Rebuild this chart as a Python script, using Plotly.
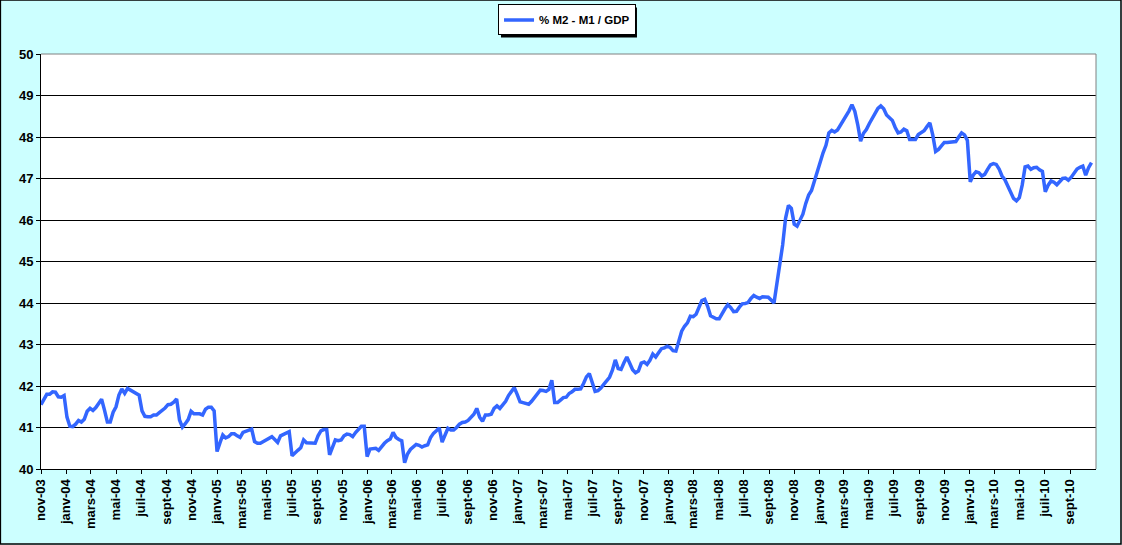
import plotly.graph_objects as go
import pandas as pd

BACKGROUND = "#CCFFFF"
LINE_COLOR = "#3366FF"
FONT = "Liberation Sans, Arial, sans-serif"

series_name = "% M2 - M1 / GDP"

# weekly readings, starting first week of nov-03
m2_m1_gdp = [
    41.55, 41.70, 41.80, 41.80, 41.86, 41.85, 41.74, 41.73, 41.77, 41.25,
    41.03, 41.02, 41.08, 41.17, 41.13, 41.20, 41.39, 41.46, 41.41, 41.48,
    41.57, 41.68, 41.42, 41.13, 41.13, 41.37, 41.50, 41.78, 41.93, 41.82,
    41.94, 41.90, 41.85, 41.82, 41.78, 41.40, 41.27, 41.26, 41.26, 41.30,
    41.30, 41.36, 41.41, 41.47, 41.55, 41.56, 41.61, 41.69, 41.18, 41.01,
    41.09, 41.19, 41.39, 41.33, 41.33, 41.33, 41.30, 41.44, 41.49, 41.49,
    41.40, 40.42, 40.63, 40.82, 40.75, 40.78, 40.85, 40.85, 40.80, 40.76,
    40.88, 40.90, 40.92, 40.96, 40.66, 40.62, 40.62, 40.66, 40.71, 40.75,
    40.78, 40.71, 40.64, 40.80, 40.84, 40.86, 40.90, 40.32, 40.40, 40.45,
    40.51, 40.70, 40.63, 40.62, 40.62, 40.62, 40.80, 40.92, 40.95, 40.95,
    40.34, 40.50, 40.70, 40.68, 40.70, 40.80, 40.84, 40.83, 40.78, 40.88,
    40.97, 41.03, 41.03, 40.30, 40.48, 40.50, 40.50, 40.45, 40.55, 40.62,
    40.68, 40.72, 40.88, 40.76, 40.71, 40.68, 40.15, 40.36, 40.47, 40.53,
    40.59, 40.57, 40.53, 40.56, 40.58, 40.76, 40.86, 40.92, 40.99, 40.65,
    40.80, 40.98, 40.94, 40.94, 41.00, 41.08, 41.12, 41.13, 41.17, 41.25,
    41.32, 41.46, 41.25, 41.15, 41.30, 41.30, 41.32, 41.46, 41.52, 41.46,
    41.54, 41.63, 41.77, 41.88, 41.96, 41.80, 41.62, 41.60, 41.58, 41.56,
    41.63, 41.72, 41.80, 41.90, 41.89, 41.87, 41.92, 42.14, 41.60, 41.60,
    41.66, 41.72, 41.73, 41.82, 41.86, 41.92, 41.92, 41.93, 42.06, 42.22,
    42.30, 42.10, 41.87, 41.89, 41.95, 42.04, 42.12, 42.21, 42.38, 42.63,
    42.42, 42.40, 42.56, 42.70, 42.55, 42.39, 42.32, 42.36, 42.55, 42.58,
    42.52, 42.62, 42.77, 42.70, 42.80, 42.90, 42.92, 42.96, 42.93, 42.85,
    42.84, 43.10, 43.32, 43.44, 43.52, 43.68, 43.67, 43.73, 43.90, 44.06,
    44.09, 43.92, 43.69, 43.65, 43.62, 43.62, 43.75, 43.86, 43.96, 43.89,
    43.79, 43.80, 43.90, 43.98, 43.99, 44.01, 44.11, 44.18, 44.14, 44.11,
    44.15, 44.15, 44.14, 44.07, 44.00, 44.47, 44.92, 45.40, 46.04, 46.35,
    46.28, 45.90, 45.85, 45.99, 46.14, 46.40, 46.60, 46.71, 46.95, 47.14,
    47.45, 47.62, 47.80, 48.10, 48.16, 48.12, 48.17, 48.28, 48.40, 48.53,
    48.63, 48.78, 48.62, 48.30, 47.90, 48.09, 48.18, 48.32, 48.45, 48.60,
    48.69, 48.75, 48.68, 48.53, 48.45, 48.40, 48.23, 48.10, 48.12, 48.19,
    48.15, 47.94, 47.94, 47.94, 48.06, 48.10, 48.15, 48.25, 48.34, 48.05,
    47.65, 47.70, 47.80, 47.87, 47.87, 47.87, 47.89, 47.89, 48.00, 48.10,
    48.05, 47.92, 46.92, 47.08, 47.16, 47.14, 47.06, 47.10, 47.22, 47.33,
    47.36, 47.34, 47.23, 47.06, 46.97, 46.82, 46.63, 46.52, 46.46, 46.54,
    46.84, 47.28, 47.30, 47.22, 47.26, 47.27, 47.21, 47.17, 46.68, 46.84,
    46.94, 46.91, 46.85, 46.93, 47.00, 47.01, 46.96, 47.03, 47.15, 47.23,
    47.27, 47.30, 47.08, 47.26, 47.38,
]
weeks = pd.date_range(start="2003-11-01", periods=len(m2_m1_gdp), freq="7D")

# x tick labels every two months, french abbreviations
MONTHS_FR = ["janv", "févr", "mars", "avr", "mai", "juin",
             "juil", "août", "sept", "oct", "nov", "déc"]
tick_dates = pd.date_range(start="2003-11-01", end="2010-09-01", freq="2MS")
tick_labels = [MONTHS_FR[d.month - 1] + "-" + d.strftime("%y") for d in tick_dates]

y_ticks = list(range(40, 51))

fig = go.Figure(data=[go.Scatter(
    x=weeks,
    y=m2_m1_gdp,
    mode="lines",
    name=series_name,
    line=dict(color=LINE_COLOR, width=3.5),
    showlegend=True,
)])

fig.update_layout(
    width=1122,
    height=545,
    margin=dict(l=41, r=26, t=54, b=76, autoexpand=False),
    paper_bgcolor=BACKGROUND,
    plot_bgcolor="white",
    font=dict(family=FONT, color="black"),
    showlegend=True,
    legend=dict(
        x=0.4332, y=1.1193, xanchor="left", yanchor="top",
        bgcolor="white", bordercolor="black", borderwidth=1,
        font=dict(size=11.5, family=FONT, weight="bold"),
        itemwidth=30,
        tracegroupgap=0,
    ),
    xaxis=dict(
        type="date",
        range=["2003-11-01", "2010-11-03"],
        tickvals=tick_dates,
        ticktext=tick_labels,
        tickangle=-90,
        tickfont=dict(size=13, family=FONT, weight="bold"),
        ticks="outside", ticklen=4, tickcolor="black",
        showgrid=False,
        showline=True, linecolor="black", linewidth=1,
        zeroline=False,
    ),
    yaxis=dict(
        range=[40, 50],
        tickvals=y_ticks,
        tickfont=dict(size=13, family=FONT, weight="bold"),
        ticks="outside", ticklen=4, tickcolor="black",
        showgrid=True, gridcolor="black", gridwidth=1,
        showline=True, linecolor="black", linewidth=1,
        zeroline=False,
    ),
    shapes=[
        # gray frame of the plot area, top and right sides
        dict(type="line", xref="paper", yref="paper", x0=0, x1=1, y0=1, y1=1,
             line=dict(color="#808080", width=1), layer="above"),
        dict(type="line", xref="paper", yref="paper", x0=1, x1=1, y0=0, y1=1,
             line=dict(color="#808080", width=1), layer="above"),
        # legend shadow
        dict(type="rect", xref="paper", yref="paper",
             x0=0.436, x1=0.5649, y0=1.0398, y1=1.1120,
             fillcolor="black", line=dict(width=0), layer="above"),
        # outer chart border
        dict(type="rect", xref="paper", yref="paper",
             x0=-0.0385, x1=1.0237, y0=-0.1807, y1=1.1301,
             line=dict(color="black", width=1.5)),
    ],
)

fig.write_html("out.html", config={"displayModeBar": False},
               post_script="document.body.style.margin='0px';")
